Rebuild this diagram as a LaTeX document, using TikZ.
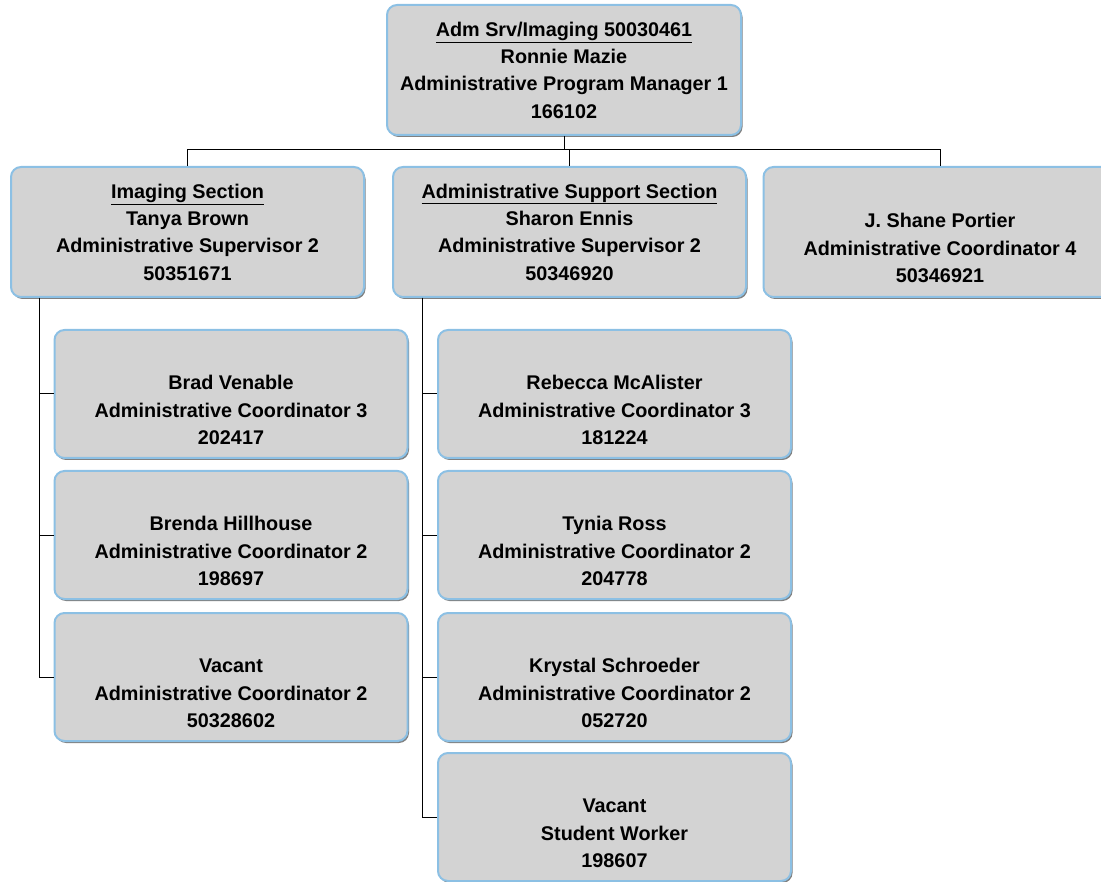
\documentclass[tikz,border=0pt]{standalone}
\usepackage{fontspec}
\setmainfont{Liberation Sans}
\usetikzlibrary{shadows}
\definecolor{boxline}{RGB}{140,192,228}
\definecolor{boxfill}{RGB}{211,211,211}
\tikzset{
  orgbox/.style={draw=boxline, line width=2pt, fill=boxfill, rounded corners=10pt,
    drop shadow={shadow xshift=1.5pt, shadow yshift=-2pt, fill=black!50, opacity=1},
    minimum width=353pt, align=center, inner sep=0pt,
    font=\fontsize{19.8}{27.3}\selectfont\bfseries},
  headbox/.style={orgbox, minimum height=130pt},
  staffbox/.style={orgbox, minimum height=128pt},
  link/.style={line width=1pt, black}
}
\begin{document}
\begin{tikzpicture}[x=1pt, y=-1pt]
    \clip[use as bounding box] (0,0) rectangle (1101,882);

    \node[headbox, minimum width=354pt] (mgr) at (564,70)
        {\underline{Adm Srv/Imaging 50030461}\\Ronnie Mazie\\Administrative Program Manager 1\\166102};

    \node[headbox] (imgsec) at (187.5,232)
        {\underline{Imaging Section}\\Tanya Brown\\Administrative Supervisor 2\\50351671};
    \node[headbox] (admsec) at (569.5,232)
        {\underline{Administrative Support Section}\\Sharon Ennis\\Administrative Supervisor 2\\50346920};
    \node[headbox] (portier) at (940,232)
        {\strut\\J. Shane Portier\\Administrative Coordinator 4\\50346921};

    \node[staffbox] (venable) at (231,394)
        {\strut\\Brad Venable\\Administrative Coordinator 3\\202417};
    \node[staffbox] (hillhouse) at (231,535)
        {\strut\\Brenda Hillhouse\\Administrative Coordinator 2\\198697};
    \node[staffbox] (vacimg) at (231,677)
        {\strut\\Vacant\\Administrative Coordinator 2\\50328602};

    \node[staffbox] (mcalister) at (614.5,394)
        {\strut\\Rebecca McAlister\\Administrative Coordinator 3\\181224};
    \node[staffbox] (ross) at (614.5,535)
        {\strut\\Tynia Ross\\Administrative Coordinator 2\\204778};
    \node[staffbox] (schroeder) at (614.5,677)
        {\strut\\Krystal Schroeder\\Administrative Coordinator 2\\052720};
    \node[staffbox] (vacstu) at (614.5,817)
        {\strut\\Vacant\\Student Worker\\198607};

    \coordinate (bus) at (0,150);
    \draw[link] (mgr.south) -- (mgr.south |- bus);
    \draw[link] (imgsec.north) |- (portier.north |- bus) -- (portier.north);
    \draw[link] (admsec.north) -- (admsec.north |- bus);

    \coordinate (imgtrunk) at ([xshift=29pt]imgsec.south west);
    \draw[link] (imgtrunk) |- (venable.west);
    \draw[link] (imgtrunk) |- (hillhouse.west);
    \draw[link] (imgtrunk) |- (vacimg.west);

    \coordinate (admtrunk) at ([xshift=30pt]admsec.south west);
    \draw[link] (admtrunk) |- (mcalister.west);
    \draw[link] (admtrunk) |- (ross.west);
    \draw[link] (admtrunk) |- (schroeder.west);
    \draw[link] (admtrunk) |- (vacstu.west);
\end{tikzpicture}
\end{document}
